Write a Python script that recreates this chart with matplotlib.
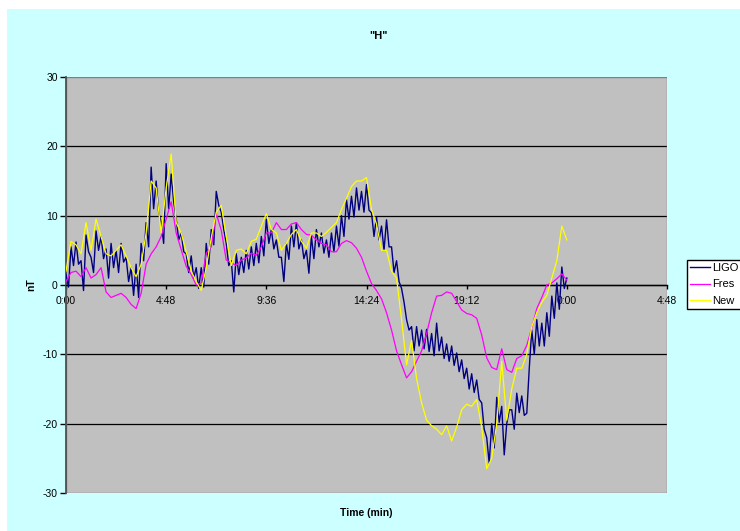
import numpy as np
import matplotlib
matplotlib.use("Agg")
import matplotlib.pyplot as plt
from matplotlib.patches import Rectangle

plt.rcParams['font.family'] = ['Liberation Sans', 'DejaVu Sans']

# ---- chart text -------------------------------------------------------
title = '"H"'
x_label = "Time (min)"
y_label = "nT"
series_names = ["LIGO", "Fres", "New"]
tick_hours = [0, 4.8, 9.6, 14.4, 19.2, 24.0, 28.8]
tick_labels = ["0:00", "4:48", "9:36", "14:24", "19:12", "0:00", "4:48"]
y_ticks = [-30, -20, -10, 0, 10, 20, 30]

# ---- data (nT) ------------------------------------------------------
# LIGO sampled every 0.12 h, Fres and New every 0.24 h, starting at 0:00
ligo_step_h = 0.12
model_step_h = 0.24

ligo = [
    1.5, -0.3, 5.5, 2.8, 6.2, 3.0, 3.5, -0.8, 7.2, 4.8,
    4.0, 1.8, 7.8, 5.0, 7.0, 3.8, 5.2, 1.0, 6.0, 2.5,
    5.0, 1.8, 6.0, 3.3, 4.0, 0.5, 2.5, -1.5, 3.0, -1.8,
    6.0, 3.5, 9.0, 5.5, 17.0, 11.0, 15.0, 10.5, 9.0, 6.0,
    17.5, 11.0, 16.0, 12.0, 9.5, 6.5, 7.5, 4.8, 4.5, 1.8,
    4.2, 1.0, 2.5, -0.5, 2.5, -0.3, 6.0, 3.0, 8.0, 5.8,
    13.5, 11.5, 10.5, 8.0, 6.0, 2.8, 3.5, -1.0, 4.5, 1.5,
    4.0, 1.8, 5.0, 2.3, 5.5, 2.8, 6.0, 3.2, 7.0, 4.2,
    9.5, 6.0, 8.0, 5.2, 6.5, 4.0, 4.0, 0.5, 6.0, 3.7,
    8.5, 5.5, 9.0, 5.2, 6.5, 3.8, 5.0, 1.7, 7.0, 3.8,
    8.0, 5.5, 7.5, 4.6, 6.5, 4.0, 7.5, 4.8, 8.5, 5.6,
    10.0, 7.0, 12.3, 9.5, 12.8, 9.8, 14.0, 10.8, 13.5, 10.5,
    14.5, 10.8, 10.4, 7.0, 9.8, 6.5, 8.5, 5.0, 9.4, 5.5,
    5.5, 1.8, 3.5, 0.5, -0.5, -2.5, -5.0, -6.5, -6.0, -9.5,
    -6.0, -8.8, -6.5, -9.2, -6.4, -9.6, -7.0, -10.2, -5.5, -9.5,
    -7.5, -10.6, -8.5, -11.0, -8.8, -11.6, -9.8, -12.5, -10.8, -13.5,
    -12.0, -15.0, -12.8, -15.5, -13.7, -16.5, -17.0, -20.8, -22.0, -25.7,
    -20.0, -23.5, -16.2, -19.8, -17.5, -24.5, -20.0, -18.0, -18.0, -20.8,
    -15.6, -18.4, -16.0, -18.8, -18.5, -12.0, -6.5, -10.0, -5.0, -8.8,
    -5.5, -8.8, -4.0, -7.4, -1.6, -4.8, 0.3, -3.5, 2.6, -0.5,
    1.0,
]

fres = [
    0.5, 1.8, 2.0, 1.2, 2.5, 1.0, 1.5, 2.5, -1.0, -1.8,
    -1.5, -1.2, -1.8, -2.8, -3.4, -1.2, 3.0, 4.5, 5.5, 7.0,
    9.5, 12.0, 7.5, 5.1, 2.7, 1.5, 0.0, 0.3, 4.6, 5.5,
    10.3, 7.9, 3.6, 3.2, 2.8, 3.6, 3.9, 4.6, 4.3, 5.5,
    7.5, 7.5, 9.0, 8.0, 8.0, 8.8, 9.0, 8.0, 7.3, 7.2,
    6.5, 6.0, 5.8, 4.8, 4.8, 6.0, 6.4, 6.1, 5.3, 4.0,
    2.0, 0.2, -0.8, -2.0, -4.0, -6.5, -9.5, -11.5, -13.4, -12.5,
    -11.0, -9.5, -7.0, -4.0, -1.6, -1.5, -1.0, -1.2, -2.4, -3.6,
    -4.1, -4.3, -4.8, -7.2, -10.5, -11.9, -12.2, -9.2, -12.2, -12.6,
    -10.6, -10.2, -8.7, -6.2, -3.4, -1.8, 0.0, 0.3, 0.9, 1.6,
    0.7,
]

new = [
    2.0, 6.3, 5.8, 4.5, 9.0, 5.0, 9.5, 7.0, 4.5, 4.2,
    5.0, 5.8, 4.2, 2.5, 1.2, 3.0, 7.5, 15.0, 14.0, 7.5,
    14.0, 18.9, 9.0, 7.5, 4.8, 2.0, 0.5, -0.8, 2.5, 6.8,
    10.5, 11.5, 7.0, 2.8, 5.0, 5.2, 4.5, 6.3, 6.6, 8.5,
    10.3, 8.0, 7.5, 5.0, 6.0, 7.3, 8.0, 6.3, 5.3, 7.5,
    7.5, 7.0, 7.6, 8.3, 9.0, 10.9, 12.5, 14.2, 15.0, 15.0,
    15.5, 10.9, 8.8, 5.0, 5.0, 2.0, 1.0, -5.0, -11.5, -8.0,
    -13.5, -17.0, -19.5, -20.3, -20.8, -21.6, -20.3, -22.5, -20.5, -18.0,
    -17.2, -17.5, -16.5, -20.5, -26.5, -25.0, -20.0, -11.0, -19.5, -15.0,
    -12.0, -12.0, -10.0, -6.0, -4.0, -2.5, -1.5, 1.0, 3.5, 8.5,
    6.5,
]

t_ligo = np.arange(len(ligo)) * ligo_step_h
t_model = np.arange(len(fres)) * model_step_h

# ---- figure ---------------------------------------------------------
W, H = 740, 531
fig = plt.figure(figsize=(W / 100, H / 100), dpi=100, facecolor="white")
fig.patches.append(Rectangle((7 / W, 0), 1 - 7 / W, 1 - 9 / H,
                             transform=fig.transFigure, facecolor="#CCFFFF",
                             edgecolor="none", zorder=-5))

ax = fig.add_axes([66 / W, 38 / H, 601 / W, 416 / H])
ax.set_facecolor("#C0C0C0")
ax.set_xlim(0, 28.8)
ax.set_ylim(-30, 30)

colors = ["#000080", "#FF00FF", "#FFFF00"]
widths = [1.0, 0.9, 0.9]
handles = []
for t, y, c, w, name in zip([t_ligo, t_model, t_model], [ligo, fres, new],
                            colors, widths, series_names):
    h, = ax.plot(t, y, color=c, lw=w, label=name, zorder=3)
    handles.append(h)

# plot-area border
ax.add_patch(Rectangle((0, 0), 1, 1, transform=ax.transAxes, fill=False,
                       edgecolor="#808080", lw=1.0, zorder=1))
for side in ("top", "right"):
    ax.spines[side].set_visible(False)
ax.spines["left"].set_color("#505050")
ax.spines["left"].set_linewidth(1.3)
ax.spines["bottom"].set_position(("data", 0))
ax.spines["bottom"].set_color("black")
ax.spines["bottom"].set_linewidth(1.0)

# horizontal grid
ax.set_yticks(y_ticks)
ax.set_yticklabels([str(v) for v in y_ticks])
ax.yaxis.grid(True, color="black", lw=0.9)
ax.set_axisbelow(True)
gl = ax.get_ygridlines()
gl[0].set_visible(False)
gl[-1].set_visible(False)

ax.set_xticks(tick_hours)
ax.set_xticklabels(tick_labels)
ax.tick_params(axis="y", direction="out", length=4, width=1, color="black",
               labelsize=7.5, pad=2)
ax.tick_params(axis="x", direction="out", length=3, width=1, color="black",
               labelsize=7.5, pad=5)

fig.text(379 / W, 1 - 36 / H, title, ha="center", va="center",
         fontsize=8, fontweight="bold")
fig.text(366 / W, 1 - 513 / H, x_label, ha="center", va="center",
         fontsize=7.5, fontweight="bold")
fig.text(31 / W, 1 - 285 / H, y_label, ha="center", va="center",
         rotation=90, fontsize=7.5, fontweight="bold")

leg = fig.legend(handles, series_names, loc="upper left",
                 bbox_to_anchor=(687 / W, 1 - 260 / H), frameon=True,
                 fancybox=False, edgecolor="black", facecolor="white",
                 framealpha=1, fontsize=8, handlelength=1.8,
                 handletextpad=0.2, borderpad=0.3, labelspacing=0.55,
                 borderaxespad=0)
leg.get_frame().set_linewidth(1.0)

fig.savefig("out.png", dpi=100, facecolor=fig.get_facecolor())
